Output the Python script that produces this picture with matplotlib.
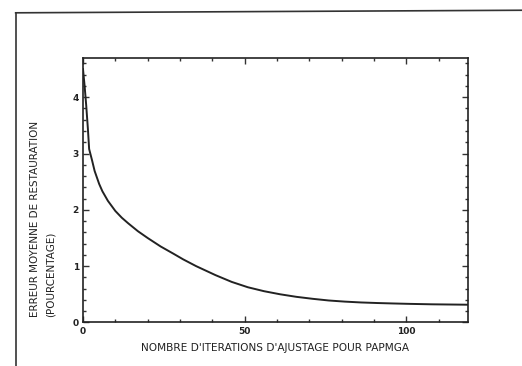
import matplotlib.pyplot as plt
from matplotlib.lines import Line2D
from matplotlib.ticker import MultipleLocator

# iterations vs mean restoration error (%)
iterations = [0, 0.5, 1, 1.5, 1.9, 2.8, 3.6, 5, 6, 7.7, 10, 12, 14, 17, 20, 24, 28, 31,
              35, 41, 46, 51, 56, 61, 66, 71, 76, 81, 86, 91, 96, 101, 108, 119]
error_pct = [4.5, 4.2, 3.85, 3.45, 3.08, 2.88, 2.69, 2.46, 2.33, 2.16, 1.98, 1.86, 1.76, 1.62,
             1.5, 1.35, 1.22, 1.12, 1.0, 0.84, 0.72, 0.625, 0.555, 0.5, 0.455, 0.42, 0.39,
             0.37, 0.355, 0.345, 0.337, 0.33, 0.322, 0.315]

x_ticks = [0, 50, 100]
y_ticks = [0, 1, 2, 3, 4]

fig = plt.figure(figsize=(5.22, 3.66), dpi=100)
ax = fig.add_axes([0.159, 0.119, 0.737, 0.723])

ax.plot(iterations, error_pct, color="#222222", linewidth=1.4)

ax.set_xlim(0, 119)
ax.set_ylim(0, 4.7)
ax.set_xticks(x_ticks)
ax.set_yticks(y_ticks)
ax.xaxis.set_minor_locator(MultipleLocator(10))
ax.yaxis.set_minor_locator(MultipleLocator(0.2))
ax.tick_params(which="both", direction="in", top=True, right=True, width=1, color="#333333")
ax.tick_params(which="major", length=4, labelsize=6.5, pad=3)
ax.tick_params(which="minor", length=2)
for lab in ax.get_xticklabels() + ax.get_yticklabels():
    lab.set_fontweight("bold")
    lab.set_color("#222222")
for sp in ax.spines.values():
    sp.set_linewidth(1.2)
    sp.set_color("#222222")

fig.text(0.5275, 0.048, "NOMBRE D'ITERATIONS D'AJUSTAGE POUR PAPMGA",
         ha="center", va="center", fontsize=7.6, color="#222222")
fig.text(0.082, 0.133, "ERREUR MOYENNE DE RESTAURATION\n(POURCENTAGE)",
         rotation=90, ha="center", va="bottom", multialignment="left",
         fontsize=7.5, color="#222222", linespacing=1.75)

# page frame from the scan (left and top edges)
fig.add_artist(Line2D([0.030, 0.030], [0.0, 0.965], transform=fig.transFigure,
                      color="#333333", linewidth=1.2))
fig.add_artist(Line2D([0.030, 1.0], [0.965, 0.972], transform=fig.transFigure,
                      color="#333333", linewidth=1.2))

fig.savefig("out.png", dpi=100)
